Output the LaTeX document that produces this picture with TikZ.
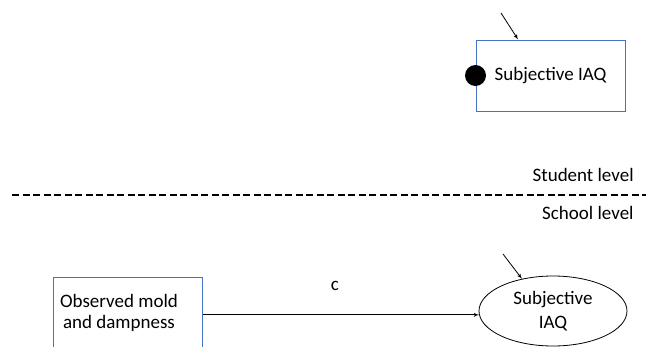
\documentclass[tikz,border=0pt]{standalone}
\usepackage{fontspec}
\setmainfont{Carlito}
\usetikzlibrary{arrows,shapes.geometric}
\definecolor{boxblue}{RGB}{68,114,196}

\begin{document}
\begin{tikzpicture}[x=1pt,y=-1pt,->,>=latex',line width=0.8pt,
every node/.style={font=\fontsize{19}{24}\selectfont},
var box/.style={rectangle,draw=boxblue,line width=1pt,inner sep=0pt},
var oval/.style={ellipse,draw,line width=0.8pt,inner sep=0pt,align=center,
  minimum width=148pt,minimum height=70pt},
level text/.style={anchor=east,inner sep=0pt}]

\clip (0,0) rectangle (646,346);
\useasboundingbox (0,0) rectangle (646,346);

% student level
\node[var box,minimum width=149pt,minimum height=71pt] (subj) at (550.5,75.5) {Subjective IAQ};
\node[circle,fill=black,inner sep=0pt,minimum size=21pt] (dot) at (subj.west) {};
\coordinate (e1) at (501,13);
\draw (e1) -- (subj.132.5);

% levels
\node[level text] (student) at (634,175) {Student level};
\node[level text] (school) at (634,213) {School level};
\coordinate (d1) at (12,195);
\coordinate (d2) at (646,195);
\draw[-,line width=1.5pt,dash pattern=on 7pt off 3.5pt] (d1) -- (d2);

% school level
\node[var box,minimum width=149pt,minimum height=103pt] (obsbox) at (127.5,328.5) {};
\node[align=center,font=\fontsize{19}{21}\selectfont] (obs) at (119,312.5) {Observed mold\\and dampness};
\node[var oval] (sub2) at (553,311) {Subjective\\IAQ};
\coordinate (e2) at (503,254);
\draw (e2) -- (sub2.134);
\draw (obsbox.east |- sub2.183) -- node[above=21pt,xshift=-6pt] (c) {c} (sub2.183);

\end{tikzpicture}
\end{document}
